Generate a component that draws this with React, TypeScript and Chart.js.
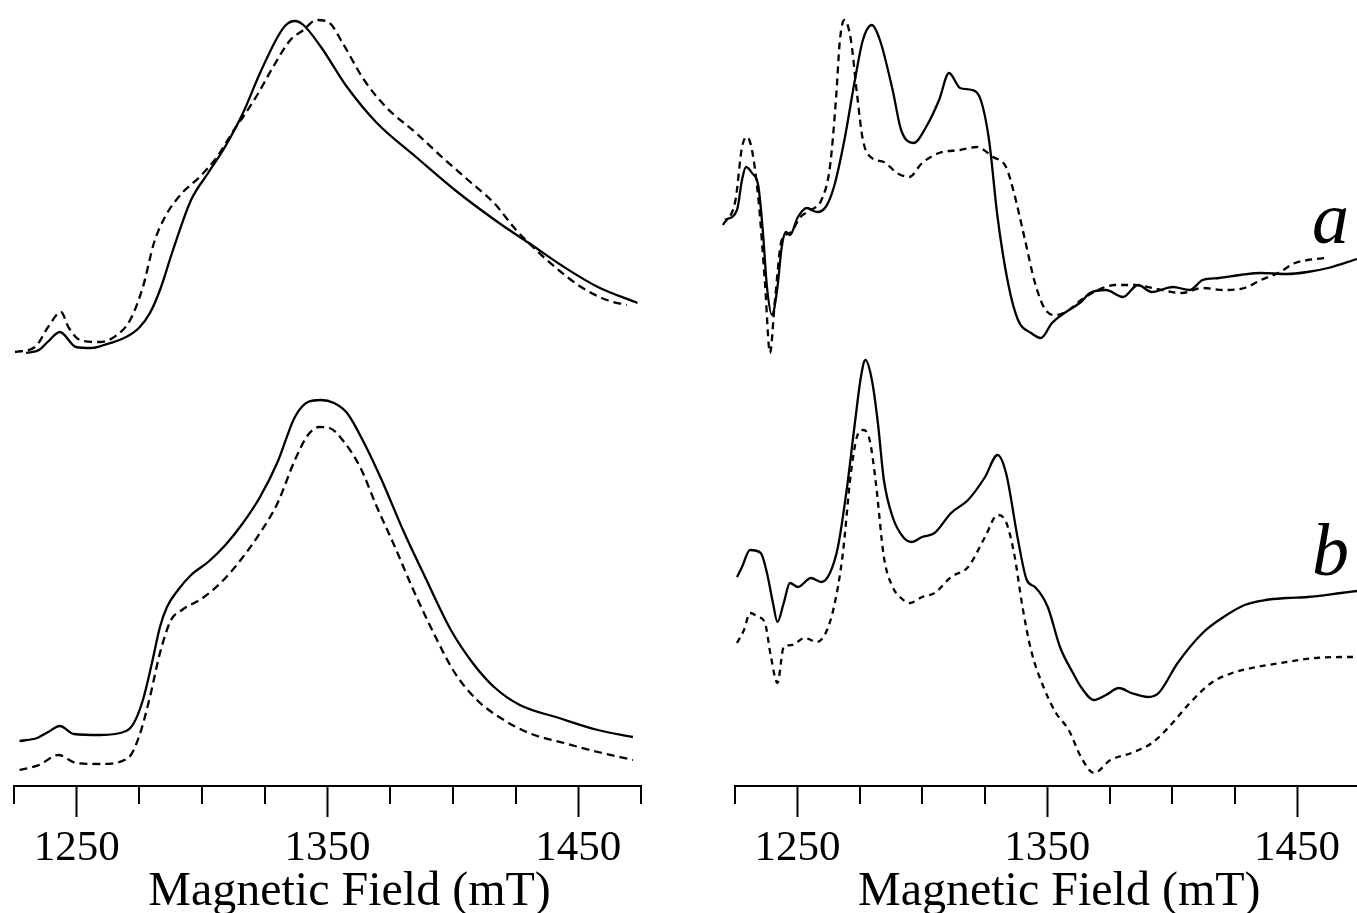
import React, { useEffect, useRef } from "react";
import { Chart, registerables } from "chart.js";

Chart.register(...registerables);

// ---------- axis definition ----------
const FIELD_MIN = 1225;
const FIELD_MAX = 1475;
const FIELD_STEP = 25;
const MAJOR_TICKS = [1250, 1350, 1450];
const AXIS_TITLE = "Magnetic Field (mT)";
const TRACE_LABELS = ["a", "b"];

// ---------- left column (a: top pair, b: bottom pair) ----------
const leftTopSolidField = [1229.8, 1235.0, 1238.4, 1243.3, 1249.7, 1255.7, 1260.9, 1269.7, 1274.8, 1279.2, 1283.2, 1288.4, 1295.6, 1302.4, 1309.1, 1316.3, 1323.1, 1330.1, 1333.4, 1337.0, 1340.4, 1347.4, 1357.8, 1369.7, 1385.3, 1400.8, 1418.4, 1430.3, 1444.3, 1457.8, 1473.6];
const leftTopSolidSignal = [433, 436, 444, 454, 439, 438, 441, 449, 458, 473, 496, 536, 586, 613, 639, 673, 713, 749, 761, 765, 761, 739, 699, 663, 629, 596, 563, 543, 519, 499, 483];

const leftTopDashedField = [1225.4, 1233.4, 1238.6, 1243.7, 1246.9, 1251.3, 1259.3, 1266.1, 1271.3, 1276.4, 1280.8, 1285.2, 1292.0, 1299.0, 1305.9, 1312.7, 1316.3, 1321.5, 1328.3, 1335.2, 1340.4, 1345.6, 1350.8, 1356.0, 1364.6, 1373.3, 1385.3, 1395.6, 1406.0, 1416.4, 1425.2, 1431.9, 1440.7, 1451.1, 1461.4, 1469.3];
const leftTopDashedSignal = [434, 439, 459, 474, 458, 446, 444, 451, 466, 499, 543, 569, 593, 609, 629, 656, 669, 689, 719, 746, 756, 766, 763, 743, 706, 679, 653, 629, 606, 583, 556, 539, 519, 499, 486, 481];

const leftBottomSolidField = [1227.2, 1234.2, 1238.6, 1243.3, 1248.9, 1259.3, 1269.7, 1272.8, 1276.4, 1280.0, 1283.2, 1286.0, 1290.4, 1295.6, 1302.4, 1309.3, 1316.3, 1323.1, 1330.1, 1337.0, 1342.2, 1347.4, 1352.6, 1357.8, 1364.6, 1371.6, 1380.1, 1388.9, 1399.2, 1407.9, 1416.4, 1426.7, 1442.3, 1457.8, 1471.8];
const leftBottomSolidSignal = [45, 48, 54, 60, 52, 51, 55, 63, 86, 123, 159, 179, 196, 211, 224, 241, 263, 289, 324, 369, 384, 386, 383, 373, 343, 306, 256, 209, 156, 123, 99, 81, 68, 56, 49];

const leftBottomDashedField = [1227.2, 1235.0, 1242.7, 1249.7, 1259.3, 1270.5, 1274.8, 1279.2, 1283.2, 1287.6, 1292.0, 1300.8, 1309.3, 1316.3, 1323.1, 1330.1, 1337.0, 1342.2, 1346.6, 1350.8, 1356.0, 1363.0, 1369.7, 1376.9, 1383.7, 1392.3, 1400.8, 1409.6, 1418.4, 1430.3, 1444.3, 1457.8, 1471.8];
const leftBottomDashedSignal = [16, 21, 31, 23, 22, 28, 49, 89, 133, 166, 176, 189, 208, 229, 253, 283, 326, 351, 359, 358, 346, 319, 279, 239, 199, 153, 113, 86, 69, 53, 43, 34, 26];

// ---------- right column ----------
const rightTopSolidField = [1221.0, 1225.8, 1227.8, 1229.4, 1231.8, 1234.4, 1236.2, 1237.8, 1239.8, 1242.0, 1243.7, 1245.4, 1247.0, 1250.2, 1253.8, 1257.8, 1261.3, 1264.6, 1268.8, 1273.0, 1276.2, 1279.8, 1283.0, 1288.1, 1291.5, 1296.5, 1301.5, 1306.7, 1310.7, 1315.1, 1319.9, 1323.4, 1326.7, 1330.1, 1334.3, 1338.3, 1343.5, 1347.5, 1351.9, 1356.9, 1363.5, 1367.1, 1373.5, 1380.3, 1386.3, 1391.9, 1400.3, 1407.1, 1412.2, 1418.8, 1427.2, 1435.6, 1445.8, 1454.2, 1462.4, 1474.0];
const rightTopSolidSignal = [566, 576, 606, 619, 613, 599, 553, 499, 471, 499, 539, 554, 551, 569, 578, 574, 579, 599, 646, 706, 746, 761, 746, 696, 656, 643, 659, 686, 713, 698, 696, 686, 646, 569, 503, 466, 453, 448, 463, 473, 484, 493, 496, 489, 501, 494, 499, 496, 506, 508, 511, 513, 512, 514, 518, 527];

const rightTopDashedField = [1220.2, 1225.2, 1227.8, 1229.8, 1231.8, 1234.4, 1237.0, 1239.0, 1241.0, 1243.7, 1247.0, 1251.2, 1255.4, 1259.6, 1263.0, 1265.4, 1267.0, 1268.8, 1271.4, 1273.8, 1276.2, 1279.8, 1284.6, 1289.9, 1294.7, 1299.9, 1306.7, 1315.1, 1321.7, 1328.3, 1333.5, 1336.7, 1341.1, 1345.1, 1349.3, 1353.5, 1358.6, 1363.5, 1370.3, 1377.1, 1385.4, 1391.9, 1403.9, 1412.2, 1420.6, 1429.0, 1435.6, 1442.4, 1449.2, 1454.2, 1461.6];
const rightTopDashedSignal = [561, 586, 639, 649, 636, 586, 503, 433, 486, 546, 553, 569, 576, 586, 619, 686, 746, 766, 746, 693, 646, 628, 624, 613, 609, 623, 633, 636, 639, 629, 619, 593, 546, 503, 476, 471, 476, 486, 496, 501, 501, 498, 493, 498, 496, 498, 506, 513, 523, 526, 528];

const rightBottomSolidField = [1225.8, 1227.8, 1231.0, 1235.3, 1237.8, 1240.2, 1242.0, 1244.5, 1247.0, 1250.2, 1255.4, 1259.6, 1263.0, 1266.2, 1269.7, 1273.0, 1275.4, 1277.2, 1279.8, 1282.2, 1284.6, 1288.1, 1292.3, 1295.7, 1299.9, 1304.9, 1311.5, 1318.3, 1325.1, 1330.1, 1333.5, 1338.3, 1341.8, 1345.1, 1350.2, 1355.1, 1360.3, 1363.5, 1368.7, 1373.5, 1378.7, 1383.7, 1390.3, 1394.6, 1402.2, 1412.2, 1420.6, 1429.0, 1437.4, 1445.8, 1454.2, 1467.6, 1474.0];
const rightBottomSolidSignal = [209, 219, 236, 233, 213, 183, 164, 183, 203, 199, 208, 204, 213, 239, 296, 363, 409, 426, 406, 363, 306, 269, 249, 244, 249, 253, 273, 286, 309, 331, 313, 246, 206, 199, 179, 139, 113, 99, 86, 91, 98, 93, 89, 93, 123, 153, 169, 181, 186, 188, 189, 193, 195];

const rightBottomDashedField = [1225.8, 1228.6, 1231.0, 1234.4, 1237.0, 1239.4, 1242.0, 1244.5, 1247.8, 1252.9, 1257.8, 1261.3, 1264.6, 1268.0, 1271.4, 1273.8, 1276.2, 1278.9, 1281.4, 1284.6, 1288.1, 1291.5, 1294.9, 1299.9, 1304.9, 1311.5, 1318.3, 1325.1, 1330.1, 1333.5, 1336.7, 1340.1, 1343.5, 1348.5, 1353.5, 1358.6, 1363.5, 1368.7, 1375.3, 1383.7, 1391.9, 1398.7, 1407.1, 1415.6, 1424.0, 1434.0, 1445.8, 1457.6, 1470.0, 1474.0];
const rightBottomDashedSignal = [143, 156, 173, 169, 163, 129, 103, 139, 141, 148, 144, 153, 179, 229, 313, 349, 356, 346, 303, 229, 199, 188, 183, 189, 193, 209, 219, 249, 271, 264, 233, 179, 136, 99, 73, 56, 29, 13, 26, 33, 43, 59, 83, 103, 113, 119, 124, 128, 129, 129];

// ---------- helpers ----------
const SERIF = '"Liberation Serif", "Times New Roman", Times, serif';

function toPoints(xs: number[], ys: number[]) {
  return xs.map((x, i) => ({ x, y: ys[i] }));
}

function trace(label: string, xs: number[], ys: number[], dash: number[] | null) {
  return {
    label,
    data: toPoints(xs, ys),
    borderColor: "#000",
    borderWidth: 2.3,
    borderDash: dash || [],
    pointRadius: 0,
    fill: false,
    cubicInterpolationMode: "monotone" as const,
    clip: false as const,
  };
}

const decorPlugin = {
  id: "decor",
  afterDraw(chart: any, _args: any, opts: any) {
    const ctx = chart.ctx;
    const s = chart.scales.x;
    const area = chart.chartArea;
    ctx.save();
    ctx.strokeStyle = "#000";
    ctx.lineWidth = 2;
    for (const t of s.ticks) {
      if (MAJOR_TICKS.includes(t.value)) continue;
      const px = Math.round(s.getPixelForValue(t.value));
      ctx.beginPath();
      ctx.moveTo(px, s.top);
      ctx.lineTo(px, s.top + 18);
      ctx.stroke();
    }
    ctx.fillStyle = "#000";
    ctx.font = `48px ${SERIF}`;
    ctx.textAlign = "center";
    ctx.textBaseline = "alphabetic";
    ctx.fillText(AXIS_TITLE, (area.left + area.right) / 2 + (opts.titleShift || 0), 905);
    if (opts.labels) {
      ctx.font = `italic 74px ${SERIF}`;
      ctx.textAlign = "left";
      for (const l of opts.labels) ctx.fillText(l.text, l.x, l.y);
    }
    ctx.restore();
  },
};

type PanelProps = {
  left: number;
  width: number;
  padLeft: number;
  padRight: number;
  datasets: any[];
  titleShift: number;
  labels?: { text: string; x: number; y: number }[];
};

function Panel({ left, width, padLeft, padRight, datasets, titleShift, labels }: PanelProps) {
  const ref = useRef<HTMLCanvasElement | null>(null);
  useEffect(() => {
    if (!ref.current) return;
    const chart = new Chart(ref.current, {
      type: "line",
      data: { datasets },
      plugins: [decorPlugin as any],
      options: {
        animation: false,
        responsive: false,
        events: [],
        layout: { padding: { left: padLeft, right: padRight, top: 0, bottom: 33 } },
        plugins: {
          legend: { display: false },
          tooltip: { enabled: false },
          decor: { titleShift, labels },
        } as any,
        scales: {
          x: {
            type: "linear",
            min: FIELD_MIN,
            max: FIELD_MAX,
            border: { display: true, color: "#000", width: 2 },
            grid: {
              display: true,
              drawOnChartArea: false,
              drawTicks: true,
              tickLength: 31,
              tickWidth: 2,
              tickColor: (c: any) =>
                c.tick && MAJOR_TICKS.includes(c.tick.value) ? "#000" : "rgba(0,0,0,0)",
            },
            ticks: {
              stepSize: FIELD_STEP,
              autoSkip: false,
              maxRotation: 0,
              minRotation: 0,
              padding: 10,
              color: "#000",
              font: { family: SERIF, size: 43, lineHeight: 1 },
              callback: (v: any) => (MAJOR_TICKS.includes(Number(v)) ? String(v) : ""),
            },
          },
          y: { display: false, min: 0, max: 786 },
        },
      },
    });
    return () => chart.destroy();
  }, []);
  return (
    <canvas
      ref={ref}
      width={width}
      height={913}
      style={{ position: "absolute", left, top: 0, width, height: 913 }}
    />
  );
}

export default function App() {
  const leftSets = [
    trace("a solid", leftTopSolidField, leftTopSolidSignal, null),
    trace("a dashed", leftTopDashedField, leftTopDashedSignal, [8, 5]),
    trace("b solid", leftBottomSolidField, leftBottomSolidSignal, null),
    trace("b dashed", leftBottomDashedField, leftBottomDashedSignal, [8, 5]),
  ];
  const rightSets = [
    trace("a solid", rightTopSolidField, rightTopSolidSignal, null),
    trace("a dashed", rightTopDashedField, rightTopDashedSignal, [7, 5]),
    trace("b solid", rightBottomSolidField, rightBottomSolidSignal, null),
    trace("b dashed", rightBottomDashedField, rightBottomDashedSignal, [6, 5]),
  ];
  return (
    <div
      style={{
        position: "fixed",
        left: 0,
        top: 0,
        width: 1357,
        height: 913,
        overflow: "hidden",
        background: "#fff",
      }}
    >
      <Panel left={0} width={680} padLeft={14} padRight={39} datasets={leftSets} titleShift={22} />
      <Panel
        left={700}
        width={700}
        padLeft={35}
        padRight={40.5}
        datasets={rightSets}
        titleShift={12}
        labels={[
          { text: TRACE_LABELS[0], x: 612, y: 243 },
          { text: TRACE_LABELS[1], x: 612, y: 575 },
        ]}
      />
    </div>
  );
}
